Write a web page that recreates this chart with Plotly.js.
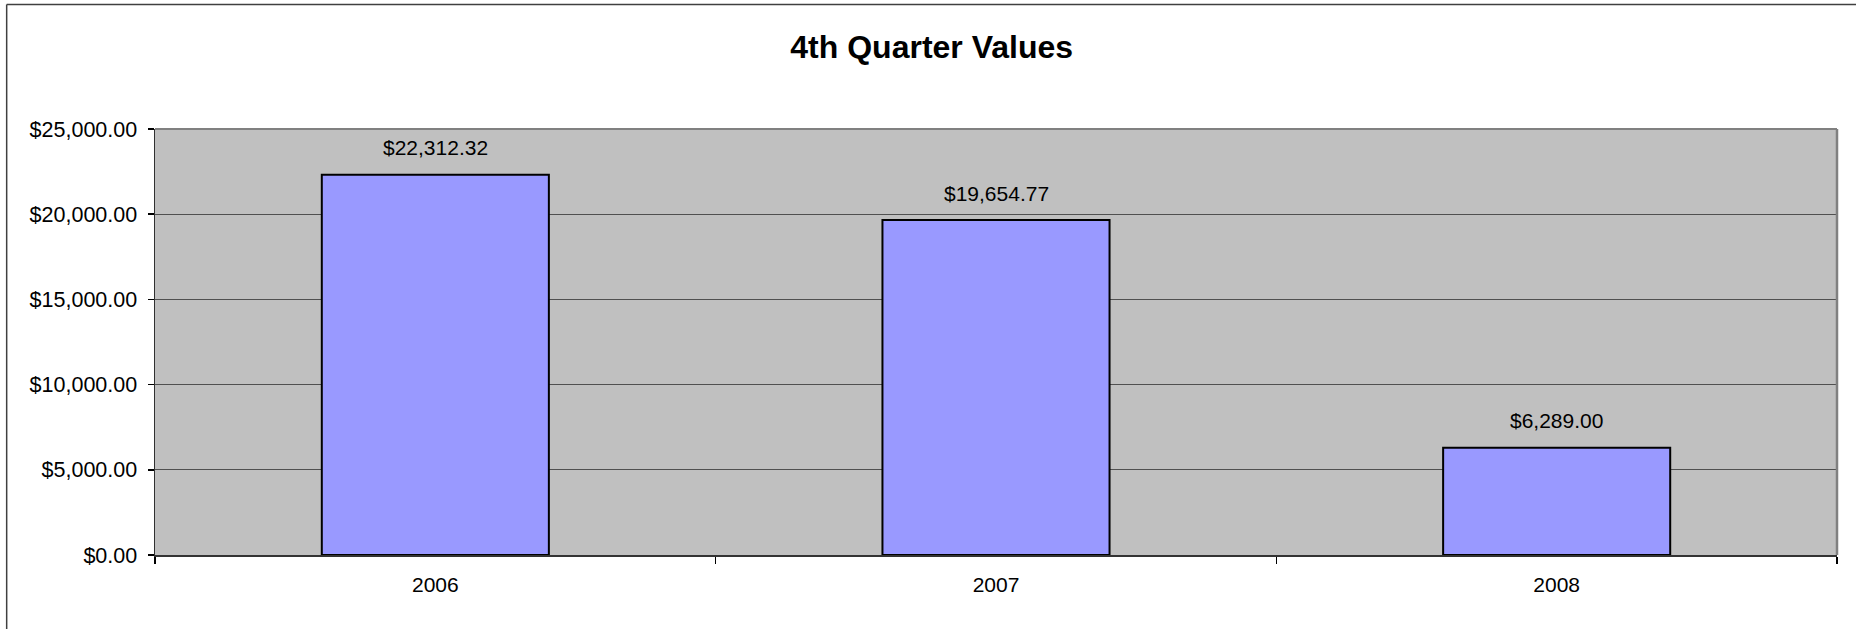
<!DOCTYPE html>
<html>
<head>
<meta charset="utf-8">
<script src="https://cdn.plot.ly/plotly-3.0.1.min.js"></script>
<style>
  html, body { margin: 0; padding: 0; background: #ffffff; }
  #chart { width: 1856px; height: 629px; }
</style>
</head>
<body>
<div id="chart"></div>
<script>
// Data
const years = ["2006", "2007", "2008"];
const values = [22312.32, 19654.77, 6289.00];
const valueLabels = ["$22,312.32", "$19,654.77", "$6,289.00"];
const yTickValues = [0, 5000, 10000, 15000, 20000, 25000];
const chartTitle = "4th Quarter Values";

const FONT = "'Liberation Sans', Arial, sans-serif";

const trace = {
  type: "bar",
  x: years,
  y: values,
  marker: { color: "#9999FF", line: { color: "#000000", width: 2 } },
  hoverinfo: "skip"
};

const annotations = years.map((yr, i) => ({
  x: i, y: values[i], xref: "x", yref: "y",
  text: valueLabels[i], showarrow: false,
  yanchor: "middle", xanchor: "center", yshift: 27,
  font: { family: FONT, size: 21, color: "#000000" }
}));

const layout = {
  width: 1856, height: 629,
  margin: { l: 155, r: 19.3, t: 129, b: 74.3, pad: 0 },
  paper_bgcolor: "#ffffff",
  plot_bgcolor: "#C0C0C0",
  showlegend: false,
  bargap: 0.595,
  title: {
    text: "<b>" + chartTitle + "</b>",
    font: { family: FONT, size: 32, color: "#000000" },
    x: 931.7 / 1856, xref: "container", xanchor: "center",
    y: 1 - 47 / 629, yref: "container", yanchor: "middle"
  },
  xaxis: {
    type: "category",
    categoryorder: "array", categoryarray: years,
    range: [-0.5, years.length - 0.5],
    autorange: false,
    showgrid: false, zeroline: false,
    showline: true, linecolor: "#333333", linewidth: 2,
    ticks: "outside", tickson: "boundaries", ticklen: 7, tickwidth: 1.5, tickcolor: "#000000",
    ticklabelstandoff: 10,
    tickangle: 0,
    tickfont: { family: FONT, size: 21, color: "#000000" }
  },
  yaxis: {
    range: [0, 25000],
    autorange: false,
    tickvals: yTickValues,
    tickformat: "$,.2f",
    showgrid: true, gridcolor: "#505050", gridwidth: 1,
    zeroline: false,
    showline: true, linecolor: "#303030", linewidth: 1.5,
    ticks: "outside", ticklen: 6, tickwidth: 1.5, tickcolor: "#000000",
    ticklabelstandoff: 6,
    tickfont: { family: FONT, size: 21.5, color: "#000000" }
  },
  annotations: annotations,
  shapes: [
    { type: "line", xref: "paper", yref: "paper", x0: 0, x1: 1, y0: 1, y1: 1,
      line: { color: "#808080", width: 2 } },
    { type: "line", xref: "paper", yref: "paper", x0: 1, x1: 1, y0: 0, y1: 1,
      line: { color: "#808080", width: 2.5 } },
    { type: "line", xref: "paper", yref: "paper",
      x0: (6.7 - 155) / 1681.7, x1: (6.7 - 155) / 1681.7,
      y0: (554.7 - 4.7) / 425.7, y1: -2,
      line: { color: "#404040", width: 1.5 } },
    { type: "line", xref: "paper", yref: "paper",
      x0: (6.7 - 155) / 1681.7, x1: 2,
      y0: (554.7 - 4.7) / 425.7, y1: (554.7 - 4.7) / 425.7,
      line: { color: "#404040", width: 1.5 } }
  ]
};

Plotly.newPlot("chart", [trace], layout, { displayModeBar: false, staticPlot: true });
</script>
</body>
</html>
